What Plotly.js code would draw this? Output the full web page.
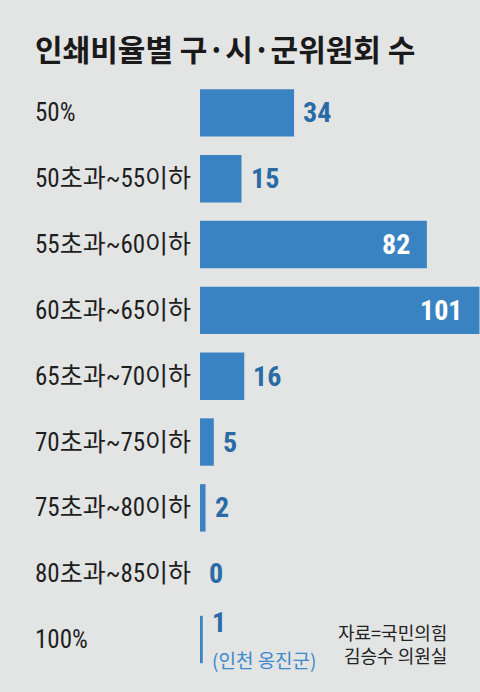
<!DOCTYPE html>
<html>
<head>
<meta charset="utf-8">
<script src="https://cdn.plot.ly/plotly-3.0.1.min.js"></script>
<style>
  html, body { margin: 0; padding: 0; background: #e3e4e4; }
  #chart { width: 480px; height: 692px; }
</style>
</head>
<body>
<div id="chart"></div>
<script>
// ---- data ----
const categories = ['50%', '50초과~55이하', '55초과~60이하', '60초과~65이하', '65초과~70이하',
                    '70초과~75이하', '75초과~80이하', '80초과~85이하', '100%'];
const counts = [34, 15, 82, 101, 16, 5, 2, 0, 1];
const notes = ['', '', '', '', '', '', '', '', '(인천 옹진군)'];
const titleText = '인쇄비율별 구·시·군위원회 수';
const sourceText = '자료=국민의힘<br>김승수 의원실';

// ---- style ----
const BG = '#e3e4e4';
const BAR = '#3a83c3';
const VAL = '#2a6ba6';
const NOTE = '#3d8acb';
const NUMFONT = 'Roboto Condensed, Roboto, sans-serif';
const LABELFONT = 'Roboto Condensed, Noto Sans CJK KR, sans-serif';
const KRFONT = 'Noto Sans CJK KR, sans-serif';
const INSIDE_MIN = 50;

const trace = {
  type: 'bar',
  orientation: 'h',
  x: counts,
  y: categories,
  marker: { color: BAR, line: { width: 0 } },
  hoverinfo: 'skip'
};

const annotations = [];
categories.forEach((c, i) => {
  // category label, left aligned
  annotations.push({
    xref: 'paper', yref: 'y', x: -166 / 280, y: c,
    xanchor: 'left', yanchor: 'middle', showarrow: false, borderpad: 0,
    text: c, font: { family: LABELFONT, size: 25, color: '#1e1e1e' }
  });
  const v = counts[i];
  const inside = v >= INSIDE_MIN;
  let txt = '<b>' + v + '</b>';
  if (notes[i]) {
    txt += '<br><span style="font-family:' + KRFONT + ';font-size:19px;color:' + NOTE + ';font-weight:normal">' + notes[i] + '</span>';
  }
  annotations.push({
    xref: 'x', yref: 'y', x: v, y: c,
    xanchor: inside ? 'right' : 'left', yanchor: 'middle',
    xshift: inside ? -16 : 8, showarrow: false, align: 'left',
    text: txt, borderpad: 0,
    font: { family: NUMFONT, size: 28, color: inside ? '#ffffff' : VAL }
  });
});
annotations.push({
  xref: 'paper', yref: 'paper', x: 248 / 280, y: (674 - 643) / 594,
  xanchor: 'right', yanchor: 'middle', showarrow: false, align: 'right', borderpad: 0,
  text: sourceText,
  font: { family: KRFONT, size: 18, color: '#222222' }
});

const layout = {
  width: 480, height: 692,
  paper_bgcolor: BG, plot_bgcolor: BG,
  margin: { l: 200, r: 0, t: 80, b: 18 },
  showlegend: false,
  bargap: 0.28,
  title: {
    text: '<b>' + titleText + '</b>',
    xref: 'container', yref: 'container',
    x: 35 / 480, xanchor: 'left',
    y: 1 - 50 / 692, yanchor: 'middle',
    font: { family: KRFONT, size: 30, color: '#1a1a1a' }
  },
  xaxis: { range: [0, 101.2], visible: false, fixedrange: true },
  yaxis: { type: 'category', autorange: 'reversed', showticklabels: false,
           showgrid: false, zeroline: false, showline: false, ticks: '' },
  annotations: annotations
};

Plotly.newPlot('chart', [trace], layout, { displayModeBar: false, staticPlot: true });
</script>
</body>
</html>
